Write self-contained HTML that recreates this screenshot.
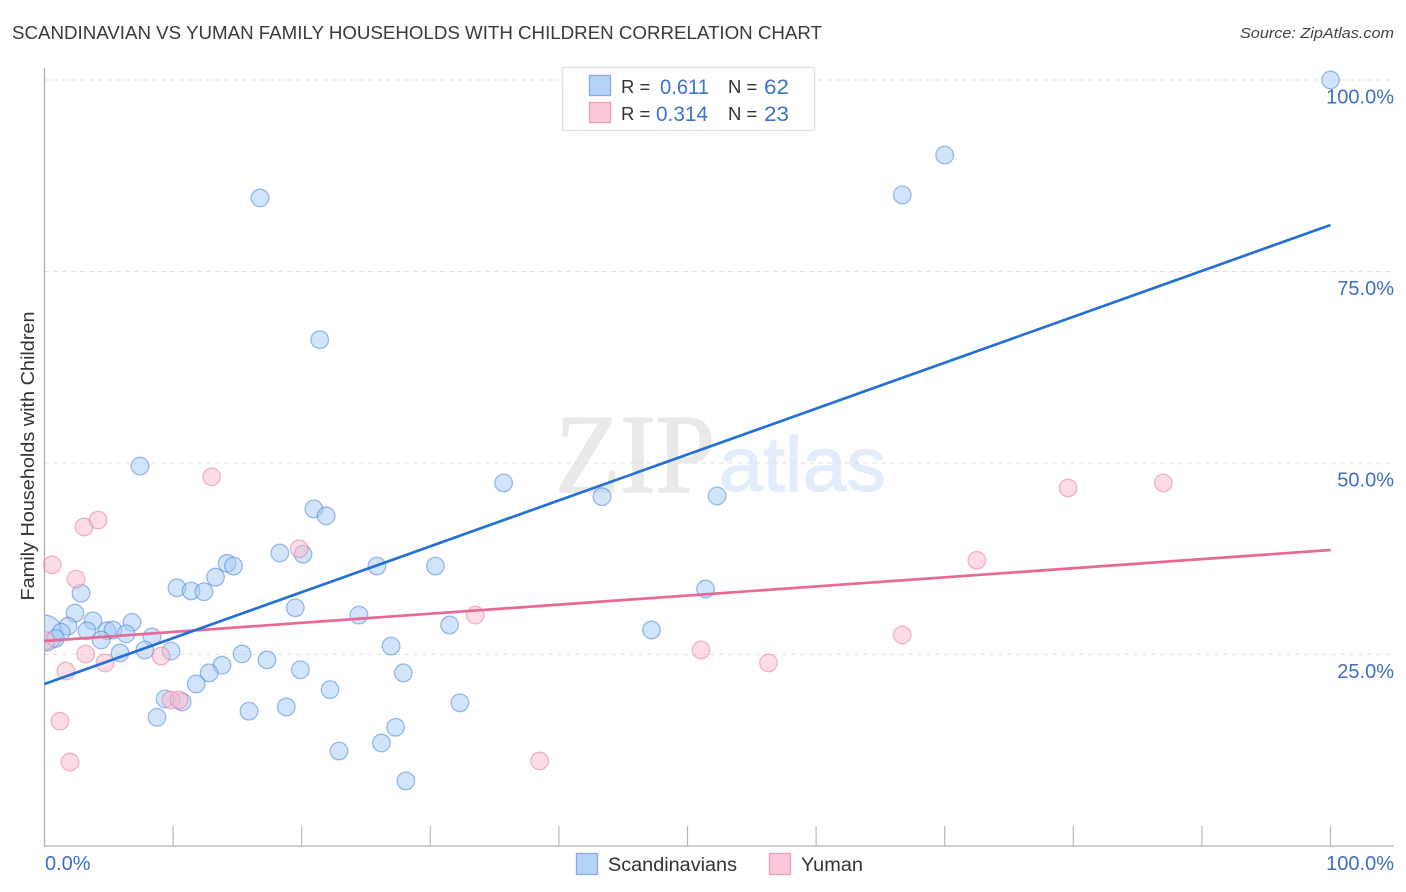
<!DOCTYPE html>
<html>
<head>
<meta charset="utf-8">
<style>
html,body{margin:0;padding:0;background:#fff;width:1406px;height:892px;overflow:hidden}
svg{display:block;font-family:"Liberation Sans",sans-serif}
</style>
</head>
<body>
<svg id="chart" width="1406" height="892" viewBox="0 0 1406 892" xmlns="http://www.w3.org/2000/svg">
  <rect width="1406" height="892" fill="#fff"/>
  <text x="12" y="39" font-size="18.5" fill="#3a3a3a" textLength="810" lengthAdjust="spacingAndGlyphs">SCANDINAVIAN VS YUMAN FAMILY HOUSEHOLDS WITH CHILDREN CORRELATION CHART</text>
  <text x="1394" y="38" font-size="15" font-style="italic" fill="#444" text-anchor="end" textLength="154" lengthAdjust="spacingAndGlyphs">Source: ZipAtlas.com</text>
  <text x="555" y="492" font-family="'Liberation Serif',serif" font-size="112" fill="#e9e9e9" stroke="#e9e9e9" stroke-width="1.5" textLength="160" lengthAdjust="spacingAndGlyphs">ZIP</text>
  <text x="719" y="491" font-size="77" fill="#e2ecfa" stroke="#e2ecfa" stroke-width="1.2" textLength="167" lengthAdjust="spacingAndGlyphs">atlas</text>
  <g id="grid"></g>
  <g id="points"></g>
  <rect x="0" y="600" width="44.5" height="70" fill="#fff"/>
  <g id="axes"></g>
  <g id="trends"></g>
  <text transform="translate(34,456) rotate(-90)" font-size="18" fill="#333" text-anchor="middle" textLength="289" lengthAdjust="spacingAndGlyphs">Family Households with Children</text>
  <g id="ylabels"></g>
  <text x="45" y="870" font-size="20" fill="#3b6fc9">0.0%</text>
  <text x="1394" y="870" font-size="20" fill="#3b6fc9" text-anchor="end">100.0%</text>

  <g>
    <rect x="562.5" y="67.5" width="252" height="63" fill="#fff" stroke="#e2e2e2" stroke-width="1.3"/>
    <rect x="589.5" y="75.5" width="21" height="20" fill="#b7d3f6" stroke="#86ade3" stroke-width="1.3"/>
    <rect x="589.5" y="102.5" width="21" height="20" fill="#fcc9da" stroke="#f09dba" stroke-width="1.3"/>
    <text x="621" y="93" font-size="18.5" fill="#333">R =</text>
    <text x="660" y="94" font-size="21" fill="#3b74cf" textLength="49" lengthAdjust="spacingAndGlyphs">0.611</text>
    <text x="728" y="93" font-size="18.5" fill="#333">N =</text>
    <text x="764" y="94" font-size="21" fill="#3b74cf" textLength="25" lengthAdjust="spacingAndGlyphs">62</text>
    <text x="621" y="120" font-size="18.5" fill="#333">R =</text>
    <text x="656" y="121" font-size="21" fill="#3b74cf" textLength="52" lengthAdjust="spacingAndGlyphs">0.314</text>
    <text x="728" y="120" font-size="18.5" fill="#333">N =</text>
    <text x="764" y="121" font-size="21" fill="#3b74cf" textLength="25" lengthAdjust="spacingAndGlyphs">23</text>
  </g>

  <g>
    <rect x="576.5" y="853.5" width="21" height="21" fill="#b7d3f6" stroke="#86ade3" stroke-width="1.3"/>
    <text x="608" y="871" font-size="19" fill="#333" textLength="129" lengthAdjust="spacingAndGlyphs">Scandinavians</text>
    <rect x="769.5" y="853.5" width="21" height="21" fill="#fcc9da" stroke="#f09dba" stroke-width="1.3"/>
    <text x="801" y="871" font-size="19" fill="#333" textLength="62" lengthAdjust="spacingAndGlyphs">Yuman</text>
  </g>
</svg>
<script>
const scandinavianX = [0,100,70.0,66.7,16.76,21.4,7.43,35.7,43.35,52.3,20.95,21.9,18.3,20.1,14.2,14.7,25.85,30.4,13.3,10.3,11.4,12.4,51.4,2.84,19.5,24.45,2.37,3.77,6.8,31.5,1.83,47.2,3.3,4.86,5.33,6.34,8.36,1.3,0.85,4.4,26.95,5.87,7.8,9.84,15.36,17.3,13.8,19.9,12.8,27.9,11.8,22.2,9.37,10.7,32.3,18.8,15.9,8.75,27.3,26.2,22.9,28.1];
const scandinavianY = [27.8,100,90.2,85.0,84.6,66.1,49.6,47.4,45.6,45.7,44.0,43.1,38.25,38.1,36.9,36.55,36.55,36.55,35.1,33.7,33.3,33.2,33.55,33.0,31.1,30.15,30.4,29.4,29.2,28.85,28.7,28.2,28.1,28.1,28.2,27.7,27.3,27.9,27.1,26.9,26.1,25.2,25.6,25.45,25.07,24.3,23.6,23.0,22.6,22.6,21.15,20.4,19.2,18.8,18.7,18.15,17.6,16.8,15.5,13.45,12.4,8.5];
const yumanX = [0.1,0.6,2.45,3.07,4.16,13.0,19.8,33.5,79.6,87.0,72.5,66.7,51.05,56.3,38.5,9.06,3.2,4.7,1.67,1.2,1.98,9.84,10.46];
const yumanY = [26.8,36.7,34.85,41.65,42.55,48.2,38.8,30.15,46.75,47.4,37.3,27.55,25.6,23.9,11.1,24.8,25.05,23.9,22.85,16.3,10.97,19.06,19.06];
const scandinavianTrend = [21.15,81.07];
const yumanTrend = [26.76,38.64];
const yTickValues = [25,50,75,100];
const yTickLabels = ["25.0%","50.0%","75.0%","100.0%"];
const xTickValues = [10,20,30,40,50,60,70,80,90,100];

const NS = "http://www.w3.org/2000/svg";
const sx = v => 44.5 + v * 12.86;
const sy = v => 846 - v * 7.66;
function mk(tag, parent, attrs) {
  const el = document.createElementNS(NS, tag);
  for (const k in attrs) el.setAttribute(k, attrs[k]);
  parent.appendChild(el);
  return el;
}

const grid = document.getElementById("grid");
const axes = document.getElementById("axes");
const ylabels = document.getElementById("ylabels");
const points = document.getElementById("points");
const trends = document.getElementById("trends");

yTickValues.forEach((v, i) => {
  const g = mk("line", grid, {x1: 44, x2: 1394, y1: sy(v), y2: sy(v), stroke: "#e0e0e0", "stroke-width": 1, "stroke-dasharray": "5 4"});
  
  
  const t = mk("text", ylabels, {x: 1394, y: sy(v) + 23.4, "font-size": 20, fill: "#3b6fc9", "text-anchor": "end"});
  t.textContent = yTickLabels[i];
  
  
});

const yAxisLine = mk("line", axes, {x1: 44.5, x2: 44.5, y1: 68, y2: 846, stroke: "#b0b0b0", "stroke-width": 1.3});


const xAxisLine = mk("line", axes, {x1: 44, x2: 1394, y1: 846, y2: 846, stroke: "#b0b0b0", "stroke-width": 1.3});


xTickValues.forEach(v => {
  const t = mk("line", axes, {x1: sx(v), x2: sx(v), y1: 826, y2: 846, stroke: "#b8b8b8", "stroke-width": 1.2});
  
  
});

scandinavianX.forEach((v, i) => {
  const c = mk("circle", points, {cx: sx(v), cy: sy(scandinavianY[i]), r: i === 0 ? 18 : 8.8, fill: "#a6c9f4", "fill-opacity": 0.5, stroke: "#3f7fd6", "stroke-opacity": 0.5, "stroke-width": 1.3});
  
  
});
yumanX.forEach((v, i) => {
  const c = mk("circle", points, {cx: sx(v), cy: sy(yumanY[i]), r: 8.8, fill: "#f9b9cd", "fill-opacity": 0.5, stroke: "#e8759c", "stroke-opacity": 0.5, "stroke-width": 1.3});
  
  
});

const yumanLine = mk("line", trends, {x1: sx(0), x2: sx(100), y1: sy(yumanTrend[0]), y2: sy(yumanTrend[1]), stroke: "#e8689a", "stroke-width": 2.7});


const scandinavianLine = mk("line", trends, {x1: sx(0), x2: sx(100), y1: sy(scandinavianTrend[0]), y2: sy(scandinavianTrend[1]), stroke: "#2470d8", "stroke-width": 2.7});


</script>
</body>
</html>
